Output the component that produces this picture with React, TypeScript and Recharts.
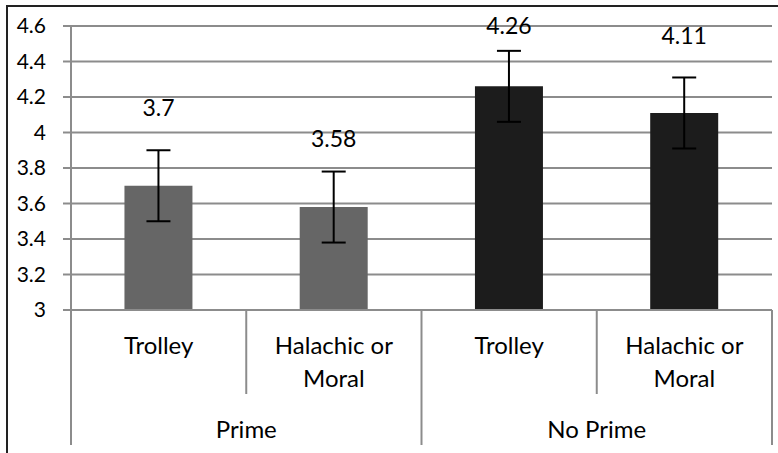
import { BarChart, Bar, XAxis, YAxis, CartesianGrid, ErrorBar, LabelList, Cell } from "recharts";

const categories = ["Trolley", "Halachic or Moral", "Trolley", "Halachic or Moral"];
const groups = ["Prime", "Prime", "No Prime", "No Prime"];
const means = [3.7, 3.58, 4.26, 4.11];
const errors = [0.2, 0.2, 0.2, 0.2];
const yTicks = [3, 3.2, 3.4, 3.6, 3.8, 4, 4.2, 4.4, 4.6];

const barColors: Record<string, string> = { Prime: "#666666", "No Prime": "#1c1c1c" };
// gap in px between the top of each error bar and the centre of its value label
const labelLift = [43, 34, 26, 42];

const data = categories.map((cat, i) => ({
  key: `${groups[i]}-${i}`,
  cat,
  group: groups[i],
  mean: means[i],
  err: errors[i],
}));

const W = 778;
const H = 453;
const LEFT = 71;
const RIGHT_M = 6;
const Y_MIN = 3;
const band = (W - LEFT - RIGHT_M) / categories.length;
const FONT = "Lato, 'Open Sans', sans-serif";
const GRID = "#8c8c8c";

function CatTick(props: any) {
  const { x, y, index } = props;
  const i = index as number;
  const words = categories[i].split(" ");
  const lines = words.length > 1 ? [words.slice(0, 2).join(" "), words.slice(2).join(" ")] : [categories[i]];
  const left = x - band / 2;
  const right = x + band / 2;
  const groupStart = i === 0 || groups[i - 1] !== groups[i];
  const isLast = i === categories.length - 1;
  return (
    <g>
      <line x1={left} x2={left} y1={y} y2={y + (groupStart ? 135 : 84)} stroke={GRID} strokeWidth={2} />
      {isLast && <line x1={right} x2={right} y1={y} y2={y + 135} stroke={GRID} strokeWidth={2} />}
      {lines.map((l, k) => (
        <text key={k} x={x} y={y + 44 + k * 33} textAnchor="middle" fontSize={24} fontFamily={FONT} fill="#000">
          {l}
        </text>
      ))}
    </g>
  );
}

function GroupTick(props: any) {
  const { x, y, payload } = props;
  return (
    <text x={x} y={y + 38} textAnchor="middle" fontSize={24} fontFamily={FONT} fill="#000">
      {payload.value}
    </text>
  );
}

function ValueLabel(props: any) {
  const { x, y, width, height, value, index } = props;
  const pxPerUnit = height / (value - Y_MIN);
  const errTop = y - errors[index] * pxPerUnit;
  return (
    <text
      x={x + width / 2}
      y={errTop - labelLift[index]}
      textAnchor="middle"
      dominantBaseline="central"
      fontSize={23}
      fontFamily={FONT}
      fill="#000"
    >
      {value}
    </text>
  );
}

export default function App() {
  return (
    <div style={{ position: "absolute", left: 0, top: 0, width: W, height: H, background: "#fff" }}>
      <div
        style={{
          position: "absolute",
          left: 6,
          top: 5,
          width: W - 6,
          height: H - 5,
          borderLeft: "2px solid #222",
          borderTop: "2px solid #222",
          boxSizing: "border-box",
        }}
      />
      <div style={{ position: "absolute", left: 0, top: 0 }}>
        <BarChart width={W} height={H} data={data} margin={{ top: 26, right: RIGHT_M, left: 0, bottom: 0 }} barCategoryGap="30.5%">
          <CartesianGrid horizontal vertical={false} stroke={GRID} strokeWidth={2} />
          <XAxis
            dataKey="key"
            height={90}
            tickLine={false}
            tickSize={0}
            tickMargin={0}
            axisLine={{ stroke: GRID, strokeWidth: 2 }}
            tick={<CatTick />}
            interval={0}
          />
          <XAxis
            xAxisId="group"
            dataKey="group"
            allowDuplicatedCategory={false}
            height={53}
            axisLine={false}
            tickLine={false}
            tickSize={0}
            tickMargin={0}
            tick={<GroupTick />}
            interval={0}
          />
          <YAxis
            width={LEFT}
            domain={[Y_MIN, 4.6]}
            ticks={yTicks}
            interval={0}
            tickSize={8}
            tickMargin={17}
            tickLine={{ stroke: GRID, strokeWidth: 2 }}
            axisLine={{ stroke: GRID, strokeWidth: 2 }}
            tick={{ fontSize: 21, fontFamily: FONT, fill: "#000" }}
          />
          <Bar dataKey="mean" isAnimationActive={false}>
            {data.map((d) => (
              <Cell key={d.key} fill={barColors[d.group]} />
            ))}
            <ErrorBar dataKey="err" width={12} stroke="#000" strokeWidth={2} />
            <LabelList dataKey="mean" content={<ValueLabel />} />
          </Bar>
        </BarChart>
      </div>
    </div>
  );
}
